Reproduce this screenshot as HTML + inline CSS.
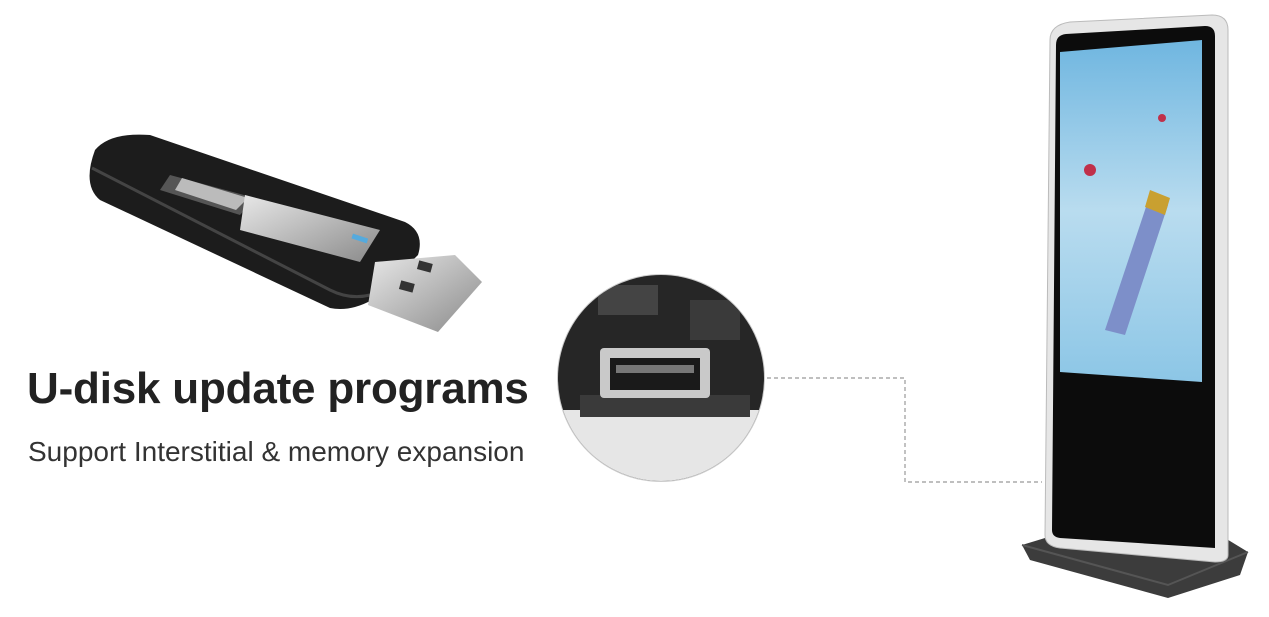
<!DOCTYPE html>
<html><head><meta charset="utf-8"><style>
html,body{margin:0;padding:0;background:#fff;width:1269px;height:617px;overflow:hidden;font-family:"Liberation Sans",Arial,sans-serif}
.t1{position:absolute;left:27px;top:364px;font-size:44px;font-weight:bold;color:#222;letter-spacing:-0.2px;white-space:nowrap}
.t2{position:absolute;left:28px;top:436px;font-size:28px;color:#333;white-space:nowrap}
</style></head><body>
<svg width="1269" height="617" style="position:absolute;left:0;top:0">
<defs>
<linearGradient id="scr" x1="0" y1="0" x2="0" y2="1"><stop offset="0" stop-color="#6fb6e0"/><stop offset="0.5" stop-color="#b9dcef"/><stop offset="1" stop-color="#8cc6e6"/></linearGradient>
<linearGradient id="sil" x1="0" y1="0" x2="1" y2="1"><stop offset="0" stop-color="#e8e8e8"/><stop offset="1" stop-color="#8a8a8a"/></linearGradient>
<clipPath id="cc"><circle cx="661" cy="378" r="103"/></clipPath>
</defs>
<path d="M95 150 Q110 132 150 135 L405 222 Q425 232 418 255 L372 300 Q350 312 330 308 L100 200 Q82 185 95 150 Z" fill="#1c1c1c"/>
<path d="M92 168 L330 290 Q350 300 370 295" stroke="#444" stroke-width="3" fill="none"/>
<path d="M170 175 L255 198 L240 215 L160 190 Z" fill="#555"/>
<path d="M182 178 L248 198 L236 210 L175 190 Z" fill="#bbb"/>
<path d="M245 195 L380 230 L360 262 L240 230 Z" fill="url(#sil)"/>
<rect x="352" y="236" width="16" height="5" fill="#5ad" transform="rotate(18 360 238)"/>
<path d="M375 262 L455 255 L482 282 L438 332 L368 305 Z" fill="url(#sil)"/>
<rect x="418" y="262" width="14" height="9" fill="#333" transform="rotate(15 425 266)"/>
<rect x="400" y="282" width="14" height="9" fill="#333" transform="rotate(15 407 286)"/>
<circle cx="661" cy="378" r="104" fill="#ccc"/>
<g clip-path="url(#cc)">
<rect x="550" y="270" width="230" height="220" fill="#262626"/>
<rect x="550" y="410" width="230" height="80" fill="#e6e6e6"/>
<rect x="580" y="395" width="170" height="22" fill="#3a3a3a"/>
<rect x="600" y="348" width="110" height="50" rx="4" fill="#c9c9c9"/>
<rect x="610" y="358" width="90" height="32" fill="#1a1a1a"/>
<rect x="616" y="365" width="78" height="8" fill="#777"/>
<rect x="598" y="285" width="60" height="30" fill="#444"/>
<rect x="690" y="300" width="50" height="40" fill="#3a3a3a"/>
</g>
<path d="M767 378 H905 V482 H1042" stroke="#999" stroke-width="1.2" stroke-dasharray="4,3" fill="none"/>
<path d="M1045 538 L1225 538 L1248 552 L1240 575 L1168 598 L1030 560 L1022 545 Z" fill="#3c3c3c"/>
<path d="M1022 545 L1168 585 L1248 552" stroke="#555" stroke-width="2" fill="none"/>
<path d="M1050 40 Q1050 25 1070 22 L1212 15 Q1228 15 1228 30 L1228 555 Q1228 562 1215 562 L1060 548 Q1045 546 1045 535 Z" fill="#e6e6e6" stroke="#bbb"/>
<path d="M1056 45 Q1056 35 1066 34 L1205 26 Q1215 26 1215 36 L1215 548 L1060 538 Q1052 537 1052 530 Z" fill="#0c0c0c"/>
<path d="M1060 52 L1202 40 L1202 382 L1060 372 Z" fill="url(#scr)"/>
<path d="M1150 195 L1168 205 L1125 335 L1105 330 Z" fill="#7d8fc9"/>
<path d="M1150 190 L1170 198 L1165 215 L1145 207 Z" fill="#c9a030"/>
<circle cx="1090" cy="170" r="6" fill="#c0304a"/>
<circle cx="1162" cy="118" r="4" fill="#c0304a"/>
</svg>
<div class="t1">U-disk update programs</div>
<div class="t2">Support Interstitial &amp; memory expansion</div>
</body></html>
